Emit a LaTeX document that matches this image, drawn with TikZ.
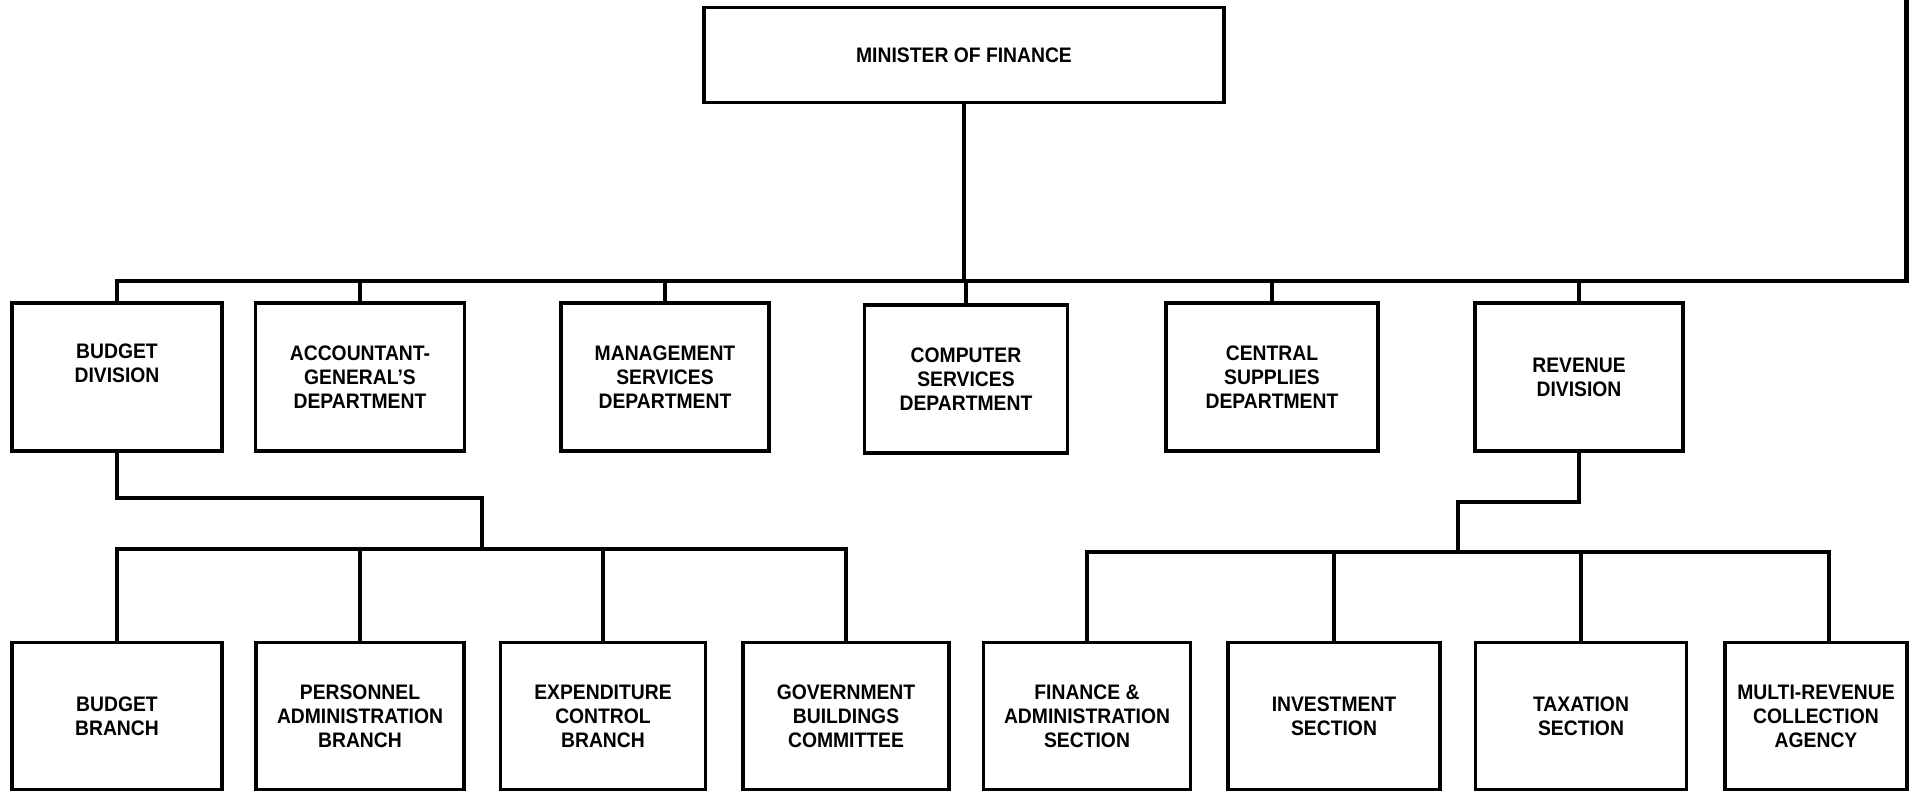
\documentclass[tikz,border=0pt]{standalone}
\usepackage{fontspec}
\setmainfont[FakeStretch=0.92]{Liberation Sans}
\begin{document}
\begin{tikzpicture}[x=1pt,y=-1pt,
  box/.style={draw, line width=3.2pt, inner sep=0pt, align=center,
    font=\bfseries\fontsize{21}{24}\selectfont, minimum height=148pt},
  conn/.style={line width=3.2pt, line cap=rect, line join=miter}]
\useasboundingbox (0,0) rectangle (1910,793);
% top
\node[box, minimum width=520pt, minimum height=95pt] (min) at (964,55) {MINISTER OF FINANCE};
% middle row
\node[box, minimum width=210pt] (bd)  at (117,377)  {BUDGET\\DIVISION\\[-4pt]\strut};
\node[box, minimum width=209pt] (ag)  at (360,377)  {ACCOUNTANT-\\GENERAL'S\\DEPARTMENT};
\node[box, minimum width=208pt] (ms)  at (665,377)  {MANAGEMENT\\SERVICES\\DEPARTMENT};
\node[box, minimum width=203pt] (cs)  at (966,379)  {COMPUTER\\SERVICES\\DEPARTMENT};
\node[box, minimum width=212pt] (csd) at (1272,377) {CENTRAL\\SUPPLIES\\DEPARTMENT};
\node[box, minimum width=208pt] (rd)  at (1579,377) {REVENUE\\DIVISION};
% bottom row
\node[box, minimum width=210pt, minimum height=147pt] (bb)  at (117,716)  {BUDGET\\BRANCH};
\node[box, minimum width=208pt, minimum height=147pt] (pa)  at (360,716)  {PERSONNEL\\ADMINISTRATION\\BRANCH};
\node[box, minimum width=205pt, minimum height=147pt] (ec)  at (603,716)  {EXPENDITURE\\CONTROL\\BRANCH};
\node[box, minimum width=206pt, minimum height=147pt] (gb)  at (846,716)  {GOVERNMENT\\BUILDINGS\\COMMITTEE};
\node[box, minimum width=207pt, minimum height=147pt] (fa)  at (1087,716) {FINANCE \&\\ADMINISTRATION\\SECTION};
\node[box, minimum width=212pt, minimum height=147pt] (inv) at (1334,716) {INVESTMENT\\SECTION};
\node[box, minimum width=211pt, minimum height=147pt] (tax) at (1581,716) {TAXATION\\SECTION};
\node[box, minimum width=182pt, minimum height=147pt] (mr)  at (1816,716) {MULTI-REVENUE\\COLLECTION\\AGENCY};
% main bus
\coordinate (busL) at (117,281);
\coordinate (busR) at (1907,281);
\draw[conn] (min.south) -- (min.south |- busL);
\draw[conn] (busL) -- (busR);
\foreach \n in {bd,ag,ms,cs,csd,rd} \draw[conn] (\n.north) -- (\n.north |- busL);
% right edge line
\coordinate (edgeT) at (1906,0);
\draw[line width=5pt] (edgeT) -- (edgeT |- busR);
% budget division subtree
\coordinate (bj) at (482,498);
\coordinate (b2) at (0,549);
\draw[conn] (bd.south) -- (bd.south |- bj) -- (bj) -- (bj |- b2);
\draw[conn] (bb.north |- b2) -- (gb.north |- b2);
\foreach \n in {bb,pa,ec,gb} \draw[conn] (\n.north) -- (\n.north |- b2);
% revenue division subtree
\coordinate (rj) at (1458,502);
\coordinate (r2) at (0,552);
\coordinate (mrtop) at ([xshift=13pt]mr.north);
\draw[conn] (rd.south) -- (rd.south |- rj) -- (rj) -- (rj |- r2);
\draw[conn] (fa.north |- r2) -- (mrtop |- r2);
\foreach \n in {fa,inv,tax} \draw[conn] (\n.north) -- (\n.north |- r2);
\draw[conn] (mrtop) -- (mrtop |- r2);
\end{tikzpicture}
\end{document}
